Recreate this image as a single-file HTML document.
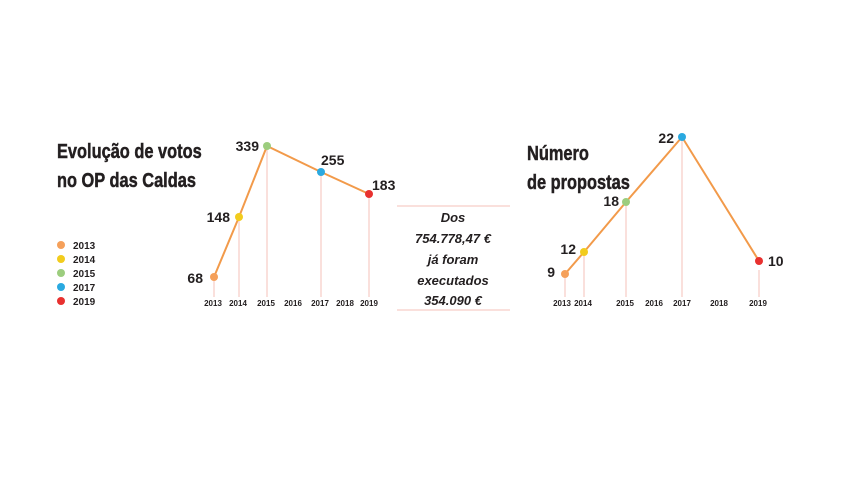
<!DOCTYPE html>
<html><head><meta charset="utf-8"><style>
body{margin:0;background:#fff;}
svg text{font-family:"Liberation Sans",sans-serif;fill:#231f20;}
</style></head><body>
<svg width="850" height="478" viewBox="0 0 850 478" xmlns="http://www.w3.org/2000/svg">
<rect width="850" height="478" fill="#fff"/>
<g font-weight="bold" font-size="20" stroke="#231f20" stroke-width="0.5">
<text x="57" y="158" font-weight="bold" transform="translate(57 0) scale(0.82 1) translate(-57 0)">Evolução de votos</text>
<text x="57" y="187" font-weight="bold" transform="translate(57 0) scale(0.82 1) translate(-57 0)">no OP das Caldas</text>
<text x="527" y="160" font-weight="bold" transform="translate(527 0) scale(0.82 1) translate(-527 0)">Número</text>
<text x="527" y="189" font-weight="bold" transform="translate(527 0) scale(0.82 1) translate(-527 0)">de propostas</text>
</g>
<g font-size="10" font-weight="bold">
<circle cx="61" cy="245" r="4" fill="#f5a05a"/><text x="73" y="249">2013</text>
<circle cx="61" cy="259" r="4" fill="#f2cc1d"/><text x="73" y="263">2014</text>
<circle cx="61" cy="273" r="4" fill="#9ccd7e"/><text x="73" y="277">2015</text>
<circle cx="61" cy="287" r="4" fill="#2aa9e0"/><text x="73" y="291">2017</text>
<circle cx="61" cy="301" r="4" fill="#e8312f"/><text x="73" y="305">2019</text>
</g>
<g stroke="#f6c2b8" stroke-width="1">
<line x1="214" y1="277" x2="214" y2="297"/><line x1="239" y1="217" x2="239" y2="297"/>
<line x1="267" y1="146" x2="267" y2="297"/><line x1="321" y1="172" x2="321" y2="297"/>
<line x1="369" y1="194" x2="369" y2="297"/>
</g>
<polyline points="214,277 239,217 267,146 321,172 369,194" fill="none" stroke="#f29a4a" stroke-width="2"/>
<circle cx="214" cy="277" r="4" fill="#f5a05a"/><circle cx="239" cy="217" r="4" fill="#f2cc1d"/>
<circle cx="267" cy="146" r="4" fill="#9ccd7e"/><circle cx="321" cy="172" r="4" fill="#2aa9e0"/>
<circle cx="369" cy="194" r="4" fill="#e8312f"/>
<g font-size="14" font-weight="bold">
<text x="203" y="283" text-anchor="end">68</text>
<text x="230" y="222" text-anchor="end">148</text>
<text x="259" y="151" text-anchor="end">339</text>
<text x="321" y="165">255</text>
<text x="372" y="190">183</text>
</g>
<g font-size="8" font-weight="bold" text-anchor="middle">
<text x="213" y="306">2013</text><text x="238" y="306">2014</text><text x="266" y="306">2015</text>
<text x="293" y="306">2016</text><text x="320" y="306">2017</text><text x="345" y="306">2018</text><text x="369" y="306">2019</text>
</g>
<line x1="397" y1="206" x2="510" y2="206" stroke="#f6c2b8"/>
<line x1="397" y1="310" x2="510" y2="310" stroke="#f6c2b8"/>
<g font-size="13" font-weight="bold" font-style="italic" text-anchor="middle">
<text x="453" y="222" fill="#444">Dos</text>
<text x="453" y="243" fill="#444">754.778,47 €</text>
<text x="453" y="264" fill="#444">já foram</text>
<text x="453" y="285" fill="#444">executados</text>
<text x="453" y="305" fill="#444">354.090 €</text>
</g>
<g stroke="#f6c2b8" stroke-width="1">
<line x1="565" y1="274" x2="565" y2="297"/><line x1="584" y1="252" x2="584" y2="297"/>
<line x1="626" y1="202" x2="626" y2="297"/><line x1="682" y1="137" x2="682" y2="297"/>
<line x1="759" y1="270" x2="759" y2="297"/>
</g>
<polyline points="565,274 584,252 626,202 682,137 759,261" fill="none" stroke="#f29a4a" stroke-width="2"/>
<circle cx="565" cy="274" r="4" fill="#f5a05a"/><circle cx="584" cy="252" r="4" fill="#f2cc1d"/>
<circle cx="626" cy="202" r="4" fill="#9ccd7e"/><circle cx="682" cy="137" r="4" fill="#2aa9e0"/>
<circle cx="759" cy="261" r="4" fill="#e8312f"/>
<g font-size="14" font-weight="bold">
<text x="555" y="277" text-anchor="end">9</text>
<text x="576" y="254" text-anchor="end">12</text>
<text x="619" y="206" text-anchor="end">18</text>
<text x="674" y="143" text-anchor="end">22</text>
<text x="768" y="266">10</text>
</g>
<g font-size="8" font-weight="bold" text-anchor="middle">
<text x="562" y="306">2013</text><text x="583" y="306">2014</text><text x="625" y="306">2015</text>
<text x="654" y="306">2016</text><text x="682" y="306">2017</text><text x="719" y="306">2018</text><text x="758" y="306">2019</text>
</g>
</svg>
</body></html>
